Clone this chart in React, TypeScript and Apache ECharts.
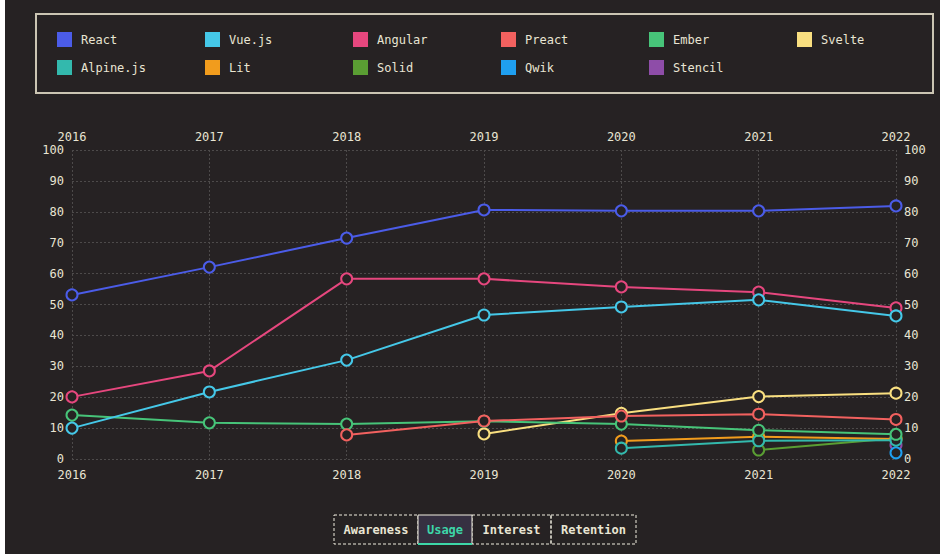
import React, { useEffect, useRef } from "react";
import * as echarts from "echarts";

const years = ["2016", "2017", "2018", "2019", "2020", "2021", "2022"];

const seriesNames = ["React", "Vue.js", "Angular", "Preact", "Ember", "Svelte", "Alpine.js", "Lit", "Solid", "Qwik", "Stencil"];
const seriesColors = ["#4b5ce8", "#45c8e8", "#e6477e", "#f2615f", "#47c479", "#f9df80", "#33b9ad", "#f19c1d", "#5a9e33", "#1f9ff0", "#8e4da8"];

const react = [53.1, 62.1, 71.5, 80.6, 80.3, 80.3, 81.9];
const vue = [10.0, 21.7, 32.0, 46.6, 49.2, 51.5, 46.3];
const angular = [20.1, 28.5, 58.3, 58.3, 55.7, 54.0, 48.9];
const preact = [null, null, 7.8, 12.3, 13.9, 14.5, 12.8];
const ember = [14.2, 11.7, 11.3, 12.2, 11.3, 9.3, 8.0];
const svelte = [null, null, null, 8.1, 14.8, 20.2, 21.3];
const alpine = [null, null, null, null, 3.5, 5.9, 6.1];
const lit = [null, null, null, null, 5.8, 7.2, 6.5];
const solid = [null, null, null, null, null, 2.9, 6.7];
const qwik = [null, null, null, null, null, null, 2.0];
const stencil = [null, null, null, null, null, null, 4.5];

const seriesData = [react, vue, angular, preact, ember, svelte, alpine, lit, solid, qwik, stencil];
const tabs = ["Awareness", "Usage", "Interest", "Retention"];
const activeTab = "Usage";

const BG = "#262223";
const TEXT = "#e9e5d3";
const FONT = "'DejaVu Sans Mono', 'Liberation Mono', monospace";

export default function App() {
  const ref = useRef<HTMLDivElement>(null);
  useEffect(() => {
    if (!ref.current) return;
    const chart = echarts.init(ref.current, undefined, { renderer: "svg" });

    const legends = seriesNames.map((name, i) => ({
      data: [{ name, itemStyle: { color: seriesColors[i], borderWidth: 0 } }],
      left: 52 + (i % 6) * 148,
      top: 32 + Math.floor(i / 6) * 28,
      itemWidth: 15,
      itemHeight: 15,
      icon: "rect",
      selectedMode: false,
      itemStyle: { color: seriesColors[i], borderWidth: 0 },
      textStyle: { color: TEXT, fontFamily: FONT, fontSize: 12, padding: [0, 0, 0, 4] },
      padding: 0,
    }));

    const tabWidths = [84, 54, 79, 85];
    const tabGraphics: any[] = [];
    let x = 329;
    tabs.forEach((t, i) => {
      const w = tabWidths[i];
      const active = t === activeTab;
      tabGraphics.push({
        type: "rect",
        shape: { x, y: 515, width: w, height: 29 },
        style: active
          ? { fill: "#363041", stroke: "#f0ede0", lineWidth: 1 }
          : { fill: "transparent", stroke: "#f0ede0", lineWidth: 1, lineDash: [3, 2] },
        z: active ? 11 : 10,
      });
      if (active) {
        tabGraphics.push({
          type: "line",
          shape: { x1: x, y1: 544, x2: x + w, y2: 544 },
          style: { stroke: "#3dd6a8", lineWidth: 2 },
          z: 12,
        });
      }
      tabGraphics.push({
        type: "text",
        x: x + w / 2,
        y: 530,
        style: {
          text: t,
          fill: active ? "#3dd6a8" : TEXT,
          font: `bold 12px ${FONT}`,
          align: "center",
          verticalAlign: "middle",
        },
        z: 13,
      });
      x += w;
    });

    const option: any = {
      animation: false,
      backgroundColor: BG,
      color: seriesColors,
      legend: legends,
      grid: { left: 67, right: 44, top: 150, bottom: 95 },
      graphic: [
        {
          type: "rect",
          shape: { x: 31, y: 14, width: 897, height: 79 },
          style: { fill: "transparent", stroke: "#cbc5b3", lineWidth: 2 },
        },
        ...tabGraphics,
      ],
      xAxis: [
        {
          type: "category",
          data: years,
          boundaryGap: false,
          position: "bottom",
          axisLine: { show: false },
          axisTick: { show: false },
          axisLabel: { color: TEXT, fontFamily: FONT, fontSize: 12, margin: 10 },
          splitLine: { show: true, lineStyle: { color: "#4d4a4a", type: [2, 2], width: 1 } },
        },
        {
          type: "category",
          data: years,
          boundaryGap: false,
          position: "top",
          axisLine: { show: false },
          axisTick: { show: false },
          axisLabel: { color: TEXT, fontFamily: FONT, fontSize: 12, margin: 7 },
          splitLine: { show: false },
        },
      ],
      yAxis: [
        {
          type: "value",
          min: 0,
          max: 100,
          interval: 10,
          position: "left",
          axisLine: { show: false },
          axisTick: { show: false },
          axisLabel: { color: TEXT, fontFamily: FONT, fontSize: 12, margin: 8 },
          splitLine: { show: true, lineStyle: { color: "#4d4a4a", type: [2, 2], width: 1 } },
        },
        {
          type: "value",
          min: 0,
          max: 100,
          interval: 10,
          position: "right",
          axisLine: { show: false },
          axisTick: { show: false },
          axisLabel: { color: TEXT, fontFamily: FONT, fontSize: 12, margin: 8 },
          splitLine: { show: false },
        },
      ],
      series: seriesNames.map((name, i) => ({
        name,
        type: "line",
        data: seriesData[i],
        symbol: "circle",
        symbolSize: 11,
        showAllSymbol: true,
        lineStyle: { width: 2, color: seriesColors[i] },
        itemStyle: { color: BG, borderColor: seriesColors[i], borderWidth: 2 },
        z: 2 + (seriesNames.length - i),
      })),
    };
    chart.setOption(option);
    return () => chart.dispose();
  }, []);

  return (
    <div style={{ position: "absolute", left: 0, top: 0, width: 940, height: 559, background: "#ffffff" }}>
      <div ref={ref} style={{ position: "absolute", left: 5, top: 0, width: 935, height: 554 }} />
    </div>
  );
}
